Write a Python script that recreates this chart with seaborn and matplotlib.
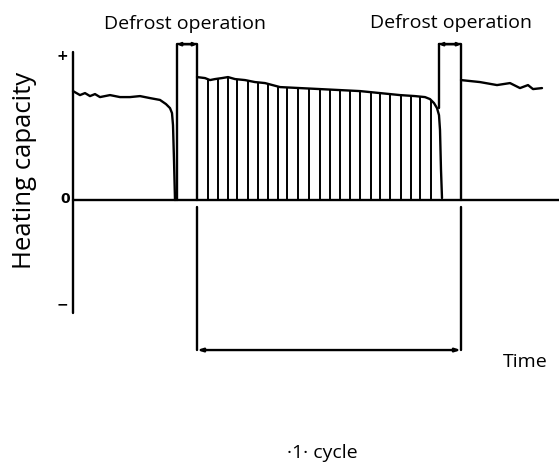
import numpy as np
import matplotlib
matplotlib.use("Agg")
import matplotlib.pyplot as plt
import seaborn as sns

# time axis in arbitrary units, capacity in arbitrary units (0 = no heating)
left_t = [0, 0.7, 1.2, 1.7, 2.2, 2.7, 3.7, 4.7, 5.7, 6.7, 7.7, 8.7, 9.3, 9.7, 9.9, 10.0, 10.1, 10.2]
left_c = [0.762, 0.734, 0.748, 0.727, 0.741, 0.72, 0.734, 0.72, 0.72, 0.727, 0.713, 0.70,
          0.671, 0.643, 0.608, 0.524, 0.28, 0.0]

top_t = [12.4, 13.2, 13.7, 14.2, 14.9, 15.5, 16.2, 17.2, 18.2, 19.2, 20.7, 22.7, 24.7, 26.7,
         28.7, 30.7, 32.7, 34.2, 35.2, 35.7, 36.1, 36.4, 36.6, 36.7, 36.8, 36.9]
top_c = [0.86, 0.853, 0.839, 0.846, 0.853, 0.86, 0.846, 0.839, 0.825, 0.818, 0.79, 0.783,
         0.776, 0.769, 0.762, 0.748, 0.734, 0.727, 0.72, 0.706, 0.678, 0.643, 0.594, 0.49,
         0.21, 0.014]

right_t = [38.8, 40.7, 42.4, 43.7, 44.7, 45.5, 46.0, 46.9]
right_c = [0.839, 0.825, 0.804, 0.818, 0.783, 0.804, 0.776, 0.783]

hatch_t = [13.5, 14.5, 15.5, 16.4, 17.5, 18.5, 19.5, 20.5, 21.4, 22.5, 23.6, 24.7, 25.7,
           26.7, 27.7, 28.7, 29.8, 30.7, 31.7, 32.8, 33.8, 34.7, 35.8]

defrost1 = (10.4, 12.4)
defrost2 = (36.6, 38.8)
defrost_top = 1.09
cycle = (12.4, 38.8)

sns.set_theme(style="white")
plt.rcParams['font.family'] = ['Open Sans', 'DejaVu Sans']
plt.rcParams['text.color'] = 'black'

fig = plt.figure(figsize=(5.59, 4.63), dpi=100)
ax = fig.add_axes([0, 0, 1, 1])
ax.set_xlim(-7.3, 48.6)
ax.set_ylim(-1.839, 1.399)
ax.axis('off')

lw = 1.7
kw = dict(color='black', linewidth=lw, sort=False, estimator=None, ax=ax)

# axes of the sketch
sns.lineplot(x=[0, 0], y=[1.035, -0.79], **kw)
sns.lineplot(x=[0, 48.6], y=[0, 0], **kw)

# capacity curves
sns.lineplot(x=left_t, y=left_c, **kw)
sns.lineplot(x=top_t, y=top_c, **kw)
sns.lineplot(x=right_t, y=right_c, **kw)

# hatching of one cycle
ax.vlines(hatch_t, 0, np.interp(hatch_t, top_t, top_c), color='black', linewidth=1.4)

# defrost boxes
sns.lineplot(x=[defrost1[0], defrost1[0], defrost1[1], defrost1[1]],
             y=[0, defrost_top, defrost_top, 0], **kw)
sns.lineplot(x=[defrost2[0], defrost2[0]], y=[0.643, defrost_top], **kw)
sns.lineplot(x=[defrost2[0], defrost2[1], defrost2[1]],
             y=[defrost_top, defrost_top, 0], **kw)
for d in (defrost1, defrost2):
    ax.annotate('', xy=(d[0], defrost_top), xytext=(d[1], defrost_top),
                arrowprops=dict(arrowstyle='<|-|>,head_length=0.15,head_width=0.07',
                                color='black', lw=lw, shrinkA=0, shrinkB=0))

# one-cycle bracket
for t in cycle:
    sns.lineplot(x=[t, t], y=[-0.05, -1.049], **kw)
ax.annotate('', xy=(cycle[0], -1.049), xytext=(cycle[1], -1.049),
            arrowprops=dict(arrowstyle='<|-|>,head_length=0.25,head_width=0.08',
                            color='black', lw=lw, shrinkA=0, shrinkB=0))

# labels
sym = dict(ha='center', va='center', fontsize=10, fontweight='bold', family='DejaVu Sans')
ax.text(-1.1, 1.007, '+', **sym)
ax.text(-0.8, 0.007, '0', **sym)
ax.text(-1.1, -0.727, '\u2212', **sym)

ax.text(11.2, 1.231, 'Defrost operation', ha='center', va='center', fontsize=14)
ax.text(37.8, 1.238, 'Defrost operation', ha='center', va='center', fontsize=14)
ax.text(-4.8, 0.21, 'Heating capacity', ha='center', va='center', fontsize=18.5, rotation=90)
ax.text(45.2, -1.133, 'Time', ha='center', va='center', fontsize=14)
ax.text(24.9, -1.769, '\u00b71\u00b7 cycle', ha='center', va='center', fontsize=14)

fig.savefig('out.png', dpi=100)
